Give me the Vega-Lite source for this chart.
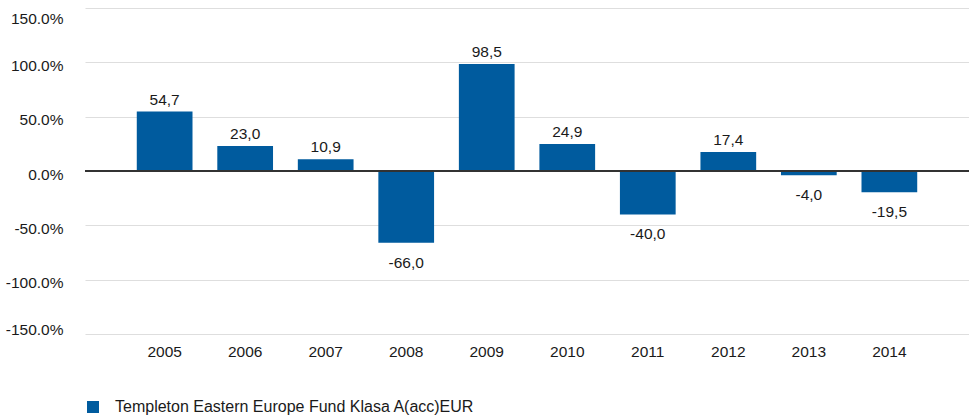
{
  "$schema": "https://vega.github.io/schema/vega-lite/v6.json",
  "autosize": "none",
  "width": 884,
  "height": 326,
  "padding": {"left": 85, "top": 8, "right": 0, "bottom": 82},
  "background": "white",
  "config": {
    "view": {"stroke": null},
    "font": "Liberation Sans",
    "locale": {"number": {"decimal": ",", "thousands": ".", "grouping": [3], "currency": ["", " €"], "minus": "-"}}
  },
  "data": {
    "values": [
      {"year": "2005", "value": 54.7, "series": "Templeton Eastern Europe Fund Klasa A(acc)EUR"},
      {"year": "2006", "value": 23.0, "series": "Templeton Eastern Europe Fund Klasa A(acc)EUR"},
      {"year": "2007", "value": 10.9, "series": "Templeton Eastern Europe Fund Klasa A(acc)EUR"},
      {"year": "2008", "value": -66.0, "series": "Templeton Eastern Europe Fund Klasa A(acc)EUR"},
      {"year": "2009", "value": 98.5, "series": "Templeton Eastern Europe Fund Klasa A(acc)EUR"},
      {"year": "2010", "value": 24.9, "series": "Templeton Eastern Europe Fund Klasa A(acc)EUR"},
      {"year": "2011", "value": -40.0, "series": "Templeton Eastern Europe Fund Klasa A(acc)EUR"},
      {"year": "2012", "value": 17.4, "series": "Templeton Eastern Europe Fund Klasa A(acc)EUR"},
      {"year": "2013", "value": -4.0, "series": "Templeton Eastern Europe Fund Klasa A(acc)EUR"},
      {"year": "2014", "value": -19.5, "series": "Templeton Eastern Europe Fund Klasa A(acc)EUR"}
    ]
  },
  "encoding": {
    "x": {
      "field": "year", "type": "nominal", "sort": null,
      "scale": {"paddingInner": 0.308, "paddingOuter": 0.643},
      "axis": {"title": null, "labelAngle": 0, "domain": false, "ticks": false, "grid": false, "labelFontSize": 15.5, "labelColor": "#1a1a1a", "labelPadding": 10, "labelFont": "Liberation Sans"}
    },
    "y": {
      "field": "value", "type": "quantitative",
      "scale": {"domain": [-150, 150], "nice": false, "zero": false},
      "axis": {
        "title": null, "values": [-150, -100, -50, 0, 50, 100, 150],
        "labelExpr": "datum.value + '.0%'",
        "domain": false, "ticks": false, "grid": true, "gridColor": "#dedede", "gridWidth": 1.2,
        "labelFontSize": 15.5, "labelColor": "#1a1a1a", "labelPadding": 22, "labelFlush": true, "labelOffset": 3, "labelFont": "Liberation Sans"
      }
    }
  },
  "layer": [
    {
      "mark": {"type": "bar"},
      "encoding": {
        "color": {
          "field": "series", "type": "nominal",
          "scale": {"range": ["#005b9e"]},
          "legend": {
            "title": null, "orient": "none", "legendX": 0, "legendY": 391, "padding": 0,
            "symbolType": "square", "symbolSize": 144, "symbolStrokeWidth": 0, "symbolOpacity": 1,
            "labelFontSize": 16, "labelColor": "#1a1a1a", "labelOffset": 14, "labelLimit": 600, "labelFont": "Liberation Sans"
          }
        }
      }
    },
    {
      "mark": {"type": "rule", "color": "#333333", "strokeWidth": 1.2},
      "encoding": {"y": {"datum": 0}, "x": null}
    },
    {
      "transform": [{"filter": "datum.value >= 0"}],
      "mark": {"type": "text", "baseline": "alphabetic", "dy": -7, "fontSize": 15.5, "color": "#1a1a1a"},
      "encoding": {"text": {"field": "value", "type": "quantitative", "format": ".1f"}}
    },
    {
      "transform": [{"filter": "datum.value < 0"}],
      "mark": {"type": "text", "baseline": "alphabetic", "dy": 25, "fontSize": 15.5, "color": "#1a1a1a"},
      "encoding": {"text": {"field": "value", "type": "quantitative", "format": ".1f"}}
    }
  ]
}
